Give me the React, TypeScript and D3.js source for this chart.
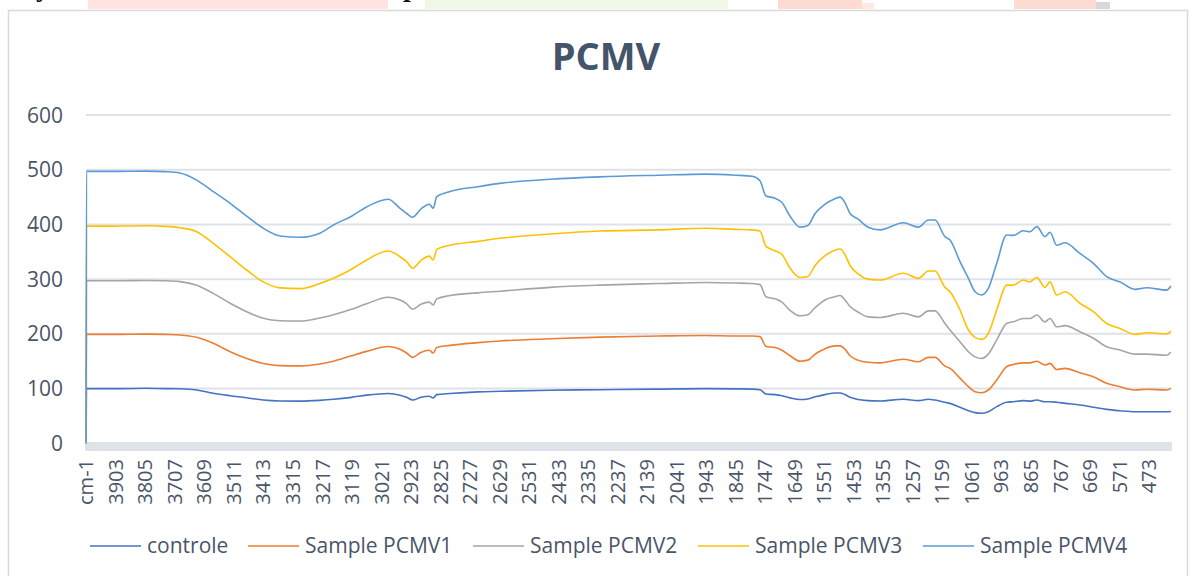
import React from 'react'
import * as d3 from 'd3'

// wavenumber (cm-1) of each read point; 4001 stands for the "cm-1" header category
const wavenumbers = [4001, 4000, 3900, 3800, 3740, 3690, 3634, 3579, 3523, 3468, 3413, 3357, 3290, 3225, 3180, 3120, 3070, 2998, 2959, 2937, 2917, 2890, 2862, 2849, 2837, 2793, 2700, 2627, 2461, 2295, 2100, 1943, 1845, 1790, 1764, 1744, 1714, 1691, 1664, 1631, 1605, 1581, 1548, 1515, 1498, 1482, 1465, 1439, 1405, 1365, 1288, 1238, 1205, 1183, 1150, 1133, 1100, 1072, 1050, 1028, 1006, 978, 945, 923, 890, 868, 845, 818, 801, 779, 751, 702, 657, 613, 569, 519, 480, 414, 400]

const controle = [0, 100, 100, 100.5, 100, 99.6, 97.4, 91.4, 87, 83.3, 79, 77.3, 77, 78.5, 80.4, 84, 88, 91, 88, 84, 79, 84, 86, 83, 89, 91, 94, 95, 97, 98, 99, 100, 99.5, 99, 98, 90, 89, 87, 83, 80, 81, 85, 89, 92, 92, 89, 84, 80, 78, 77.3, 80.4, 78, 80.4, 79, 75, 73, 65.8, 59.6, 56, 54.8, 57.7, 67, 75, 76, 78, 77, 79, 76, 76, 75, 73, 70, 66, 62, 59.6, 57.7, 57.7, 57.7, 58]
const pcmv1 = [0, 199, 199, 199.5, 199, 198, 193.7, 182.7, 167.4, 155, 146, 142, 141.5, 145, 150, 160, 168, 177, 172, 165, 157, 166, 170, 165, 175, 179, 184, 187, 191, 194, 196, 197, 196, 196, 195, 177, 175, 170, 160, 150, 152, 163, 173, 178, 178, 172, 160, 152, 148, 147, 153.5, 149, 157, 157, 141, 137, 119, 103.5, 94.3, 92.5, 97.4, 115.7, 140, 144, 147, 147, 150, 143, 146, 135, 137, 129, 121.7, 109.6, 103.5, 97.4, 98.7, 97.4, 100.5]
const pcmv2 = [0, 297, 297, 297.5, 297, 295.5, 289, 274, 256, 240.6, 228.4, 224, 223.5, 229, 235, 245, 255, 267, 262, 255, 245, 254, 258, 253, 264, 270, 275, 278, 285, 289, 292, 294, 293, 292, 290, 268, 264, 258, 243, 233, 235, 248, 262, 268, 270, 262, 250, 240, 231, 230, 237.6, 231, 242, 242, 219, 207, 185.7, 167.4, 158, 155, 163, 189, 219, 222, 228, 228, 234.5, 222, 228, 213, 215, 204, 192, 176.5, 170.5, 163, 163, 161, 167]
const pcmv3 = [0, 397, 397, 397.5, 396.5, 394, 386.7, 365.5, 341, 316.7, 295, 284, 282.6, 292, 301.5, 318, 335, 351.4, 341, 332, 320, 334, 342, 335, 354.5, 362, 369, 374.6, 382.5, 388, 390, 393, 391, 390, 388, 360, 352, 345, 320, 303, 305, 325, 343, 353, 355, 345, 325, 310, 300, 298.4, 310.7, 301.5, 315, 315, 285, 277, 243.6, 207, 193.7, 190, 201, 243.6, 289, 289, 298.4, 295, 303, 285, 295, 271, 277, 256, 240.5, 219, 210, 199, 202, 200, 205]
const pcmv4 = [0, 497, 497, 497.5, 496.5, 494, 481, 460, 438.6, 415, 393, 379, 376.5, 384, 399, 415, 432, 446, 429.5, 420, 413, 428, 437, 429.5, 450.7, 460, 469, 475, 482.5, 487, 490, 492, 490, 488, 480, 452, 448, 440, 415, 395, 398, 420, 437, 447, 450, 440, 420, 410, 395, 390, 403, 395, 408, 408, 377.6, 371.5, 332, 301.5, 277, 271, 283, 329, 380.7, 380, 388.5, 386.7, 396, 377.6, 385.6, 362, 366.6, 347, 329, 304.5, 295, 281.4, 284.4, 280, 287.5]

const seriesNames = ['controle', 'Sample PCMV1', 'Sample PCMV2', 'Sample PCMV3', 'Sample PCMV4']
const seriesValues = [controle, pcmv1, pcmv2, pcmv3, pcmv4]
const seriesColors = ['#4472C4', '#ED7D31', '#A5A5A5', '#FFC000', '#5B9BD5']

const xTickLabels = ['cm-1', '3903', '3805', '3707', '3609', '3511', '3413', '3315', '3217', '3119', '3021', '2923', '2825', '2727', '2629', '2531', '2433', '2335', '2237', '2139', '2041', '1943', '1845', '1747', '1649', '1551', '1453', '1355', '1257', '1159', '1061', '963', '865', '767', '669', '571', '473']
const yTicks = [0, 100, 200, 300, 400, 500, 600]

const width = 1190
const height = 576
const font = '"Open Sans", sans-serif'
const textColor = '#4a5568'

export default function App () {
  const x = d3.scaleLinear().domain([4001.5, 399.5]).range([86, 1171])
  const y = d3.scaleLinear().domain([0, 600]).range([443.3, 115])

  const line = d3.line<number>()
    .x((d, i) => x(wavenumbers[i]))
    .y(d => y(d))
    .curve(d3.curveMonotoneX)

  const legendX = [90, 248, 473, 698, 923]

  return (
    <svg width={width} height={height} viewBox={`0 0 ${width} ${height}`}
      style={{ position: 'absolute', left: 0, top: 0, background: '#fff' }}>
      {/* bits of the page above the chart */}
      <rect x={88} y={0} width={300} height={9} fill='#ffe4e1' />
      <rect x={425} y={0} width={303} height={9} fill='#eef8e4' />
      <rect x={778} y={0} width={84} height={9} fill='#ffdcd3' />
      <rect x={862} y={3} width={12} height={6} fill='#ffe9e3' />
      <rect x={1014} y={0} width={82} height={9} fill='#ffdcd3' />
      <rect x={1096} y={2} width={14} height={7} fill='#d8d8d8' />
      <text x={36} y={-4} fontFamily='"Liberation Serif", serif' fontWeight='bold' fontSize={28} fill='#111'>y</text>
      <text x={403} y={-4} fontFamily='"Liberation Serif", serif' fontWeight='bold' fontSize={28} fill='#111'>p</text>

      <rect x={8.5} y={10.5} width={1179} height={580} fill='#fff' stroke='#d9d9d9' strokeWidth={1.5} />

      <text x={606} y={70} textAnchor='middle' fontFamily={font} fontWeight='bold' fontSize={38} fill='#44546a'>PCMV</text>

      {yTicks.filter(t => t > 0).map(t => (
        <line key={t} x1={86} x2={1171} y1={y(t)} y2={y(t)} stroke='#dfe2e8' strokeWidth={2} />
      ))}
      <rect x={85} y={442} width={1087} height={9} fill='#dfe2e8' />

      {yTicks.map(t => (
        <text key={t} x={63} y={y(t)} dy='0.36em' textAnchor='end' fontFamily={font} fontSize={21} fill={textColor}>{t}</text>
      ))}

      {xTickLabels.map(l => {
        const px = x(l === 'cm-1' ? 4001 : +l)
        return (
          <text key={l} transform={`translate(${px},459) rotate(-90)`} dy='0.36em' textAnchor='end'
            fontFamily={font} fontSize={20} fill={textColor}>{l}</text>
        )
      })}

      {seriesValues.map((vals, i) => (
        <path key={seriesNames[i]} d={line(vals) || ''} fill='none' stroke={seriesColors[i]} strokeWidth={1.6} />
      ))}

      {seriesNames.map((n, i) => (
        <g key={n} transform={`translate(${legendX[i]},546)`}>
          <line x1={0} x2={51} y1={0} y2={0} stroke={seriesColors[i]} strokeWidth={1.6} />
          <text x={57} y={0} dy='0.35em' fontFamily={font} fontSize={21} fill={textColor}>{n}</text>
        </g>
      ))}
    </svg>
  )
}
